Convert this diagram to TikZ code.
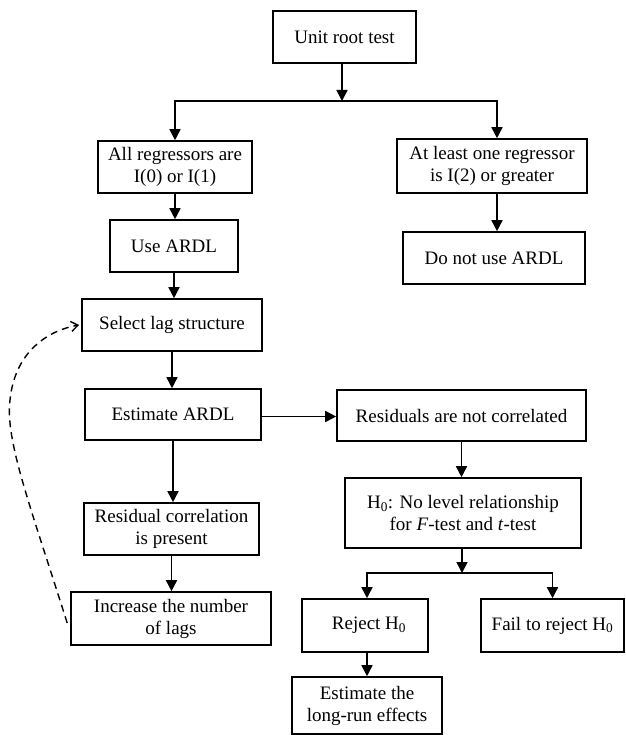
\documentclass[tikz,border=0pt]{standalone}
\usepackage{fontspec}
\setmainfont{Liberation Serif}
\usetikzlibrary{arrows.meta}
\begin{document}
\begin{tikzpicture}[x=1pt,y=-1pt,
  box/.style={draw, line width=1.6pt, inner sep=0pt, align=center,
    font=\fontsize{19}{22}\selectfont},
  arr/.style={line width=1.6pt, -{Triangle[length=11pt,width=11pt]}},
  plainline/.style={line width=1.6pt},
  fb/.style={-{Straight Barb[length=7pt,width=10pt,line width=1.4pt]}, line width=1.4pt, dash pattern=on 7pt off 5pt}]
\useasboundingbox (0,0) rectangle (625,735);

\node[box, minimum width=143pt, minimum height=52pt] (unit) at (344.5,37) {Unit root test};
\node[box, minimum width=154pt, minimum height=52pt] (allreg) at (175,167) {All regressors are\\I(0) or I(1)};
\node[box, minimum width=190pt, minimum height=54pt] (atleast) at (492,166) {At least one regressor\\is I(2) or greater};
\node[box, minimum width=128pt, minimum height=52pt] (use) at (174,246) {Use ARDL};
\node[box, minimum width=182pt, minimum height=52pt] (donot) at (494,258) {Do not use ARDL};
\node[box, minimum width=180pt, minimum height=52pt] (select) at (172,325) {Select lag structure};
\node[box, minimum width=176pt, minimum height=51pt] (est) at (173,414.5) {Estimate ARDL};
\node[box, minimum width=249pt, minimum height=51pt] (resnot) at (461.5,415.5) {Residuals are not correlated};
\node[box, minimum width=175pt, minimum height=52pt] (rescor) at (171.5,529) {Residual correlation\\is present};
\node[box, minimum width=200pt, minimum height=53pt] (incr) at (171,618.5) {Increase the number\\of lags};
\node[box, minimum width=236pt, minimum height=70pt] (h0) at (463,513) {H\textsubscript{0}: No level relationship\\for \textit{F}-test and \textit{t}-test};
\node[box, minimum width=126pt, minimum height=53pt] (reject) at (365,625.5) {\hspace*{8pt}Reject H\textsubscript{0}};
\node[box, minimum width=143pt, minimum height=53pt] (fail) at (552.5,625.5) {Fail to reject H\textsubscript{0}};
\node[box, minimum width=150pt, minimum height=57pt] (longrun) at (367,705.5) {Estimate the\\long-run effects};

\coordinate (b1) at (342,101);
\coordinate (b2) at (462,573);

\draw[arr] (unit.south -| b1) -- (b1);
\draw[arr] (b1) -| (allreg.north);
\draw[arr] (b1) -| ([xshift=5pt]atleast.north);
\draw[arr] (allreg.south) -- (allreg.south |- use.north);
\draw[arr] ([xshift=5pt]atleast.south) -- ([xshift=5pt]atleast.south |- donot.north);
\draw[arr] (use.south) -- (use.south |- select.north);
\draw[arr] (select.south) -- (select.south |- est.north);
\draw[arr] ([yshift=-2pt]est.east) -- ([yshift=-2pt]est.east -| resnot.west);
\draw[arr] (est.south) -- (est.south |- rescor.north);
\draw[arr] (rescor.south) -- (rescor.south |- incr.north);
\draw[arr] (resnot.south) -- (resnot.south |- h0.north);
\draw[arr] (h0.south -| b2) -- (b2);
\draw[arr] (b2) -| ([xshift=2pt]reject.north);
\draw[arr] (b2) -| (fail.north);
\draw[arr] ([xshift=2pt]reject.south) -- ([xshift=2pt]reject.south |- longrun.north);

\draw[fb] ([xshift=-3pt,yshift=-4.5pt]incr.west) .. controls (30,505) and (5,440) .. (10,400)
  .. controls (15,350) and (50,330) .. ([xshift=-2pt]select.west);
\end{tikzpicture}
\end{document}
